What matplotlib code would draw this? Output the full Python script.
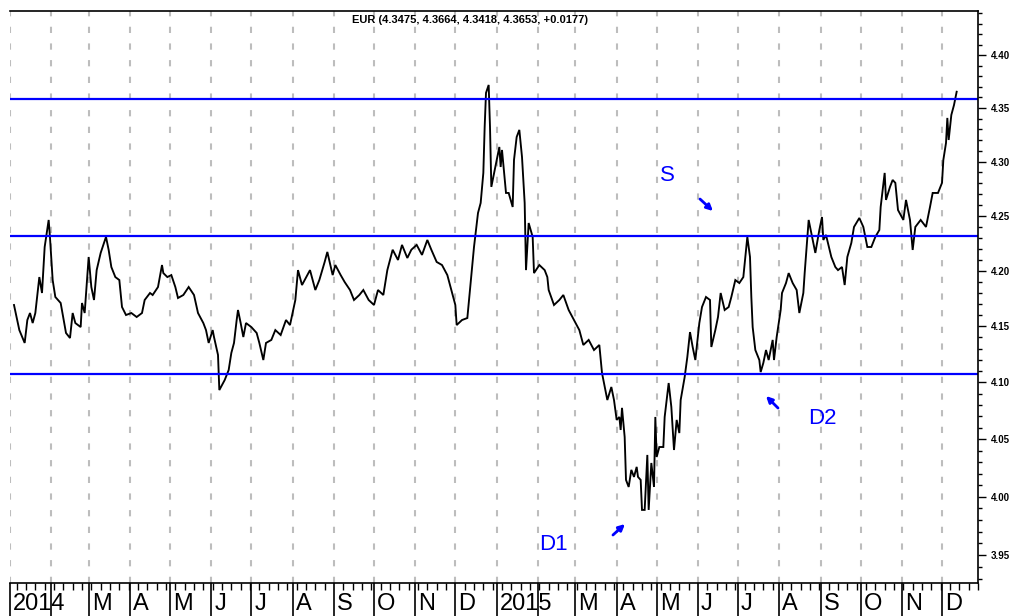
import matplotlib
matplotlib.use("Agg")
import matplotlib.pyplot as plt
import matplotlib.dates as mdates
import matplotlib.ticker as mticker
import matplotlib.transforms as mtransforms
import numpy as np
import pandas as pd

# ============================================
# Data (EUR, daily closes)
# ============================================
dates = [
    "2014-01-04", "2014-01-08", "2014-01-12", "2014-01-14", "2014-01-16", "2014-01-18", "2014-01-20",
    "2014-01-23", "2014-01-25", "2014-01-27", "2014-01-30", "2014-01-31", "2014-02-02", "2014-02-04",
    "2014-02-08", "2014-02-12", "2014-02-15", "2014-02-17", "2014-02-19", "2014-02-23", "2014-02-24",
    "2014-02-26", "2014-03-01", "2014-03-03", "2014-03-05", "2014-03-07", "2014-03-10", "2014-03-14",
    "2014-03-16", "2014-03-18", "2014-03-21", "2014-03-24", "2014-03-26", "2014-03-29", "2014-04-02",
    "2014-04-06", "2014-04-10", "2014-04-12", "2014-04-16", "2014-04-18", "2014-04-22", "2014-04-25",
    "2014-04-26", "2014-04-29", "2014-05-02", "2014-05-05", "2014-05-07", "2014-05-11", "2014-05-15",
    "2014-05-19", "2014-05-22", "2014-05-26", "2014-05-28", "2014-05-30", "2014-06-02", "2014-06-03",
    "2014-06-06", "2014-06-07", "2014-06-11", "2014-06-14", "2014-06-16", "2014-06-18", "2014-06-20",
    "2014-06-21", "2014-06-23", "2014-06-25", "2014-06-27", "2014-07-01", "2014-07-05", "2014-07-07",
    "2014-07-10", "2014-07-12", "2014-07-16", "2014-07-19", "2014-07-23", "2014-07-27", "2014-07-30",
    "2014-08-03", "2014-08-05", "2014-08-08", "2014-08-10", "2014-08-14", "2014-08-18", "2014-08-21",
    "2014-08-25", "2014-08-27", "2014-08-31", "2014-09-02", "2014-09-06", "2014-09-09", "2014-09-13",
    "2014-09-16", "2014-09-20", "2014-09-23", "2014-09-27", "2014-10-01", "2014-10-04", "2014-10-08",
    "2014-10-11", "2014-10-15", "2014-10-19", "2014-10-22", "2014-10-26", "2014-10-29", "2014-11-02",
    "2014-11-06", "2014-11-10", "2014-11-13", "2014-11-17", "2014-11-21", "2014-11-25", "2014-11-28",
    "2014-12-01", "2014-12-02", "2014-12-06", "2014-12-10", "2014-12-12", "2014-12-15", "2014-12-18",
    "2014-12-20", "2014-12-22", "2014-12-23", "2014-12-24", "2014-12-26", "2014-12-27", "2014-12-28",
    "2014-12-31", "2015-01-03", "2015-01-04", "2015-01-05", "2015-01-08", "2015-01-10", "2015-01-13",
    "2015-01-14", "2015-01-16", "2015-01-18", "2015-01-20", "2015-01-22", "2015-01-23", "2015-01-25",
    "2015-01-28", "2015-01-29", "2015-02-02", "2015-02-06", "2015-02-08", "2015-02-09", "2015-02-13",
    "2015-02-17", "2015-02-20", "2015-02-24", "2015-02-28", "2015-03-04", "2015-03-07", "2015-03-11",
    "2015-03-15", "2015-03-19", "2015-03-21", "2015-03-24", "2015-03-25", "2015-03-28", "2015-03-30",
    "2015-04-01", "2015-04-03", "2015-04-04", "2015-04-05", "2015-04-07", "2015-04-08", "2015-04-10",
    "2015-04-12", "2015-04-14", "2015-04-16", "2015-04-17", "2015-04-19", "2015-04-20", "2015-04-22",
    "2015-04-24", "2015-04-25", "2015-04-27", "2015-04-29", "2015-04-30", "2015-05-01", "2015-05-03",
    "2015-05-06", "2015-05-07", "2015-05-10", "2015-05-12", "2015-05-14", "2015-05-16", "2015-05-18",
    "2015-05-19", "2015-05-22", "2015-05-24", "2015-05-26", "2015-05-28", "2015-05-30", "2015-06-02",
    "2015-06-04", "2015-06-07", "2015-06-10", "2015-06-11", "2015-06-14", "2015-06-16", "2015-06-18",
    "2015-06-21", "2015-06-24", "2015-06-26", "2015-06-29", "2015-07-02", "2015-07-05", "2015-07-07",
    "2015-07-08", "2015-07-10", "2015-07-11", "2015-07-12", "2015-07-14", "2015-07-17", "2015-07-18",
    "2015-07-20", "2015-07-22", "2015-07-24", "2015-07-27", "2015-07-28", "2015-07-30", "2015-08-02",
    "2015-08-03", "2015-08-06", "2015-08-08", "2015-08-11", "2015-08-14", "2015-08-16", "2015-08-19",
    "2015-08-20", "2015-08-23", "2015-08-25", "2015-08-28", "2015-08-31", "2015-09-02", "2015-09-03",
    "2015-09-05", "2015-09-09", "2015-09-12", "2015-09-14", "2015-09-17", "2015-09-19", "2015-09-21",
    "2015-09-24", "2015-09-26", "2015-09-30", "2015-10-03", "2015-10-06", "2015-10-09", "2015-10-12",
    "2015-10-15", "2015-10-16", "2015-10-19", "2015-10-20", "2015-10-23", "2015-10-25", "2015-10-27",
    "2015-10-29", "2015-11-02", "2015-11-04", "2015-11-07", "2015-11-09", "2015-11-11", "2015-11-15",
    "2015-11-19", "2015-11-22", "2015-11-24", "2015-11-28", "2015-12-01", "2015-12-02", "2015-12-04",
    "2015-12-05", "2015-12-06", "2015-12-08", "2015-12-10", "2015-12-12",
]
closes = [
    4.1690, 4.1465, 4.1350, 4.1555, 4.1618, 4.1528, 4.1618,
    4.1942, 4.1798, 4.2215, 4.2462, 4.2298, 4.1915, 4.1762,
    4.1708, 4.1439, 4.1394, 4.1618, 4.1528, 4.1492, 4.1708,
    4.1618, 4.2124, 4.1852, 4.1735, 4.2005, 4.2161, 4.2307,
    4.2188, 4.2033, 4.1942, 4.1915, 4.1672, 4.1600, 4.1618,
    4.1582, 4.1618, 4.1735, 4.1798, 4.1780, 4.1852, 4.2051,
    4.1978, 4.1942, 4.1960, 4.1852, 4.1753, 4.1780, 4.1852,
    4.1780, 4.1618, 4.1528, 4.1465, 4.1350, 4.1465, 4.1403,
    4.1243, 4.0932, 4.1020, 4.1109, 4.1261, 4.1350, 4.1555,
    4.1645, 4.1528, 4.1403, 4.1528, 4.1492, 4.1439, 4.1350,
    4.1198, 4.1350, 4.1377, 4.1465, 4.1421, 4.1555, 4.1510,
    4.1735, 4.2005, 4.1870, 4.1915, 4.2005, 4.1825, 4.1915,
    4.2079, 4.2170, 4.1960, 4.2051, 4.1960, 4.1897, 4.1825,
    4.1735, 4.1780, 4.1825, 4.1735, 4.1690, 4.1825, 4.1780,
    4.2005, 4.2190, 4.2097, 4.2234, 4.2115, 4.2190, 4.2234,
    4.2143, 4.2279, 4.2190, 4.2079, 4.2051, 4.1960, 4.1825,
    4.1690, 4.1510, 4.1555, 4.1573, 4.1825, 4.2215, 4.2526,
    4.2618, 4.2895, 4.3323, 4.3642, 4.3717, 4.3323, 4.2766,
    4.2950, 4.3136, 4.2950, 4.3108, 4.2710, 4.2710, 4.2581,
    4.3015, 4.3229, 4.3295, 4.3043, 4.2618, 4.2005, 4.2434,
    4.2307, 4.1978, 4.2051, 4.2005, 4.1942, 4.1825, 4.1690,
    4.1735, 4.1780, 4.1645, 4.1555, 4.1465, 4.1332, 4.1377,
    4.1287, 4.1332, 4.1083, 4.0906, 4.0844, 4.0959, 4.0844,
    4.0669, 4.0695, 4.0581, 4.0775, 4.0519, 4.0146, 4.0085,
    4.0233, 4.0172, 4.0259, 4.0172, 4.0146, 3.9887, 3.9887,
    4.0363, 3.9887, 4.0293, 4.0085, 4.0695, 4.0345, 4.0432,
    4.0432, 4.0695, 4.0994, 4.0783, 4.0406, 4.0669, 4.0554,
    4.0844, 4.1047, 4.1225, 4.1447, 4.1314, 4.1198, 4.1528,
    4.1672, 4.1762, 4.1735, 4.1314, 4.1465, 4.1582, 4.1798,
    4.1645, 4.1672, 4.1762, 4.1915, 4.1888, 4.1942, 4.2190,
    4.2307, 4.2124, 4.1762, 4.1492, 4.1287, 4.1198, 4.1091,
    4.1172, 4.1287, 4.1198, 4.1377, 4.1198, 4.1403, 4.1645,
    4.1798, 4.1888, 4.1978, 4.1888, 4.1825, 4.1618, 4.1798,
    4.1978, 4.2462, 4.2343, 4.2161, 4.2370, 4.2489, 4.2279,
    4.2325, 4.2124, 4.2033, 4.2005, 4.2033, 4.1870, 4.2124,
    4.2252, 4.2398, 4.2480, 4.2398, 4.2215, 4.2215, 4.2307,
    4.2370, 4.2581, 4.2895, 4.2646, 4.2766, 4.2830, 4.2803,
    4.2553, 4.2462, 4.2646, 4.2462, 4.2188, 4.2398, 4.2462,
    4.2398, 4.2581, 4.2710, 4.2710, 4.2803, 4.3015, 4.3173,
    4.3407, 4.3201, 4.3435, 4.3528, 4.3653,
]

# support / resistance levels
levels = [4.3585, 4.2318, 4.1075]

title_text = "EUR (4.3475, 4.3664, 4.3418, 4.3653, +0.0177)"
y_ticks = [3.95, 4.00, 4.05, 4.10, 4.15, 4.20, 4.25, 4.30, 4.35, 4.40]
y_min, y_max = 3.9263, 4.442
x_start, x_end = "2014-01-01", "2015-12-28"

BLUE = "#0000ff"

# ============================================
# Figure
# ============================================
plt.rcParams['font.family'] = ['Liberation Sans', 'DejaVu Sans']

fig = plt.figure(figsize=(10.12, 6.16), dpi=100)
ax = fig.add_axes([10 / 1012, 33 / 616, 968 / 1012, 572 / 616])

x = pd.to_datetime(dates)
ax.plot(x, closes, color="black", lw=1.35, solid_joinstyle="miter")

for lv in levels:
    ax.axhline(lv, color=BLUE, lw=1.6)

ax.set_yscale("log")
ax.set_ylim(y_min, y_max)
ax.set_xlim(pd.Timestamp(x_start), pd.Timestamp(x_end))

# y axis on the right
ax.yaxis.tick_right()
ax.yaxis.set_major_locator(mticker.FixedLocator(y_ticks))
ax.yaxis.set_major_formatter(mticker.FixedFormatter([f"{t:.2f}" for t in y_ticks]))
ax.yaxis.set_minor_locator(mticker.FixedLocator(np.arange(3.93, 4.445, 0.01)))
ax.yaxis.set_minor_formatter(mticker.NullFormatter())
ax.tick_params(axis="y", which="major", length=6, width=1, direction="out",
               labelsize=7, pad=3)
ax.tick_params(axis="y", which="minor", length=3, width=1, direction="out")
for lab in ax.get_yticklabels():
    lab.set_fontweight("bold")

# x axis: months
ax.xaxis.set_major_locator(mdates.MonthLocator())
ax.xaxis.set_minor_locator(mdates.WeekdayLocator(byweekday=mdates.MO))


def month_label(val, pos=None):
    d = mdates.num2date(val)
    if d.month == 1:
        return str(d.year)
    if d.month == 2:
        return ""
    return "JFMAMJJASOND"[d.month - 1]


ax.xaxis.set_major_formatter(mticker.FuncFormatter(month_label))
ax.tick_params(axis="x", which="major", length=24, width=1.2, direction="out",
               labelsize=17, pad=-17)
ax.tick_params(axis="x", which="minor", length=5, width=1, direction="out")
offset = mtransforms.ScaledTranslation(3 / 100, 0, fig.dpi_scale_trans)
for lab in ax.get_xticklabels():
    lab.set_horizontalalignment("left")
    lab.set_transform(lab.get_transform() + offset)

ax.grid(axis="x", which="major", color="#bdbdbd", linestyle=(0, (3, 5)), lw=1.5)
ax.spines["left"].set_visible(False)
for s in ["top", "right", "bottom"]:
    ax.spines[s].set_linewidth(1.2)

# title inside the plot
ax.text(0.475, 0.984, title_text, transform=ax.transAxes, ha="center", va="center",
        fontsize=8, fontweight="bold")

# annotations
ax.text(0.679, 0.713, "S", transform=ax.transAxes, ha="center", va="center",
        fontsize=16, color=BLUE)
ax.text(0.839, 0.288, "D2", transform=ax.transAxes, ha="center", va="center",
        fontsize=16, color=BLUE)
ax.text(0.561, 0.068, "D1", transform=ax.transAxes, ha="center", va="center",
        fontsize=16, color=BLUE)

arrow = dict(arrowstyle="-|>", color=BLUE, lw=2, mutation_scale=9, shrinkA=0, shrinkB=0)
ax.annotate("", xy=(0.7262, 0.6503), xytext=(0.7128, 0.6713),
            xycoords="axes fraction", textcoords="axes fraction", arrowprops=arrow)
ax.annotate("", xy=(0.7810, 0.3269), xytext=(0.7934, 0.3059),
            xycoords="axes fraction", textcoords="axes fraction", arrowprops=arrow)
ax.annotate("", xy=(0.6353, 0.1031), xytext=(0.6229, 0.0839),
            xycoords="axes fraction", textcoords="axes fraction", arrowprops=arrow)

fig.savefig("out.png", dpi=100)
